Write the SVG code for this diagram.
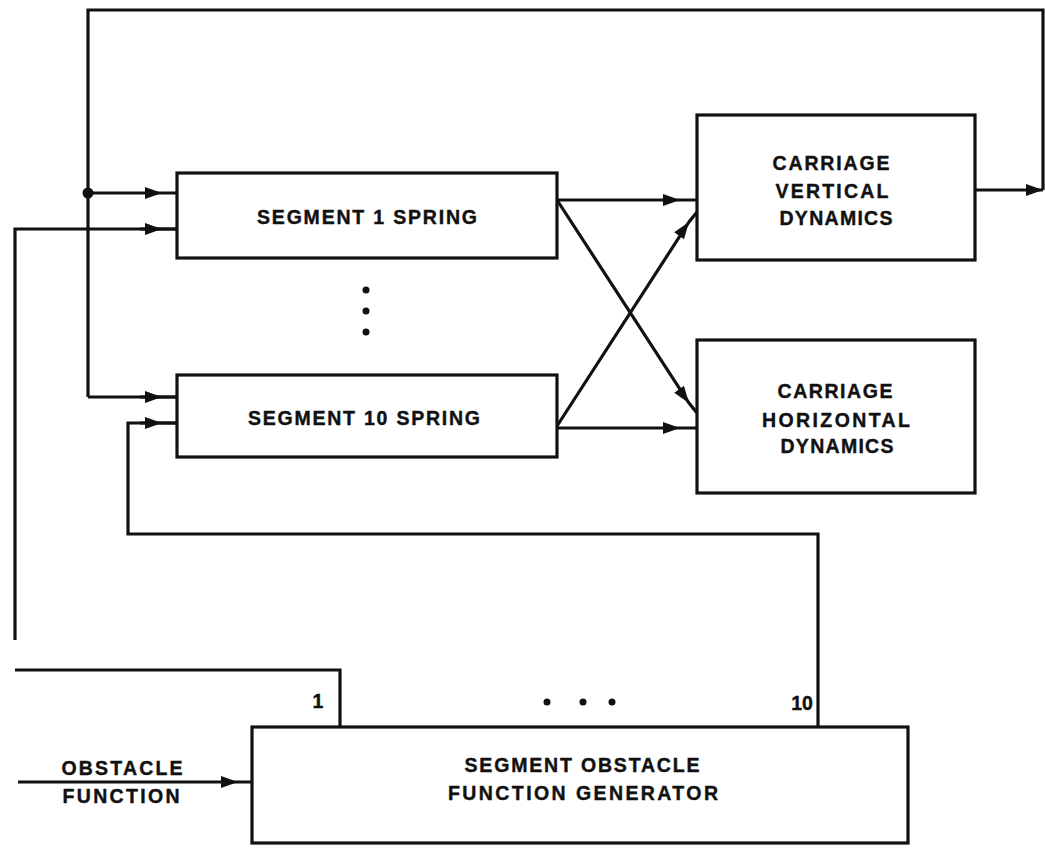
<svg xmlns="http://www.w3.org/2000/svg" width="1045" height="849" viewBox="0 0 1045 849">
<style>
.box{fill:#fff;stroke:#111;stroke-width:3.2}
.ln{fill:none;stroke:#111;stroke-width:3.2;stroke-linejoin:miter}
.t{font-family:"Liberation Sans",Arial,sans-serif;font-weight:bold;font-size:19.5px;fill:#111;text-anchor:middle;stroke:#111;stroke-width:0.4}
.a{marker-mid:url(#ah)}
</style>
<defs>
<marker id="ah" markerUnits="userSpaceOnUse" markerWidth="18" markerHeight="13" refX="17" refY="6.5" orient="auto" viewBox="0 0 18 13">
<path d="M0,0.5 L17,6.5 L0,12.5 z" fill="#111"/>
</marker>
<marker id="ahe" markerUnits="userSpaceOnUse" markerWidth="18" markerHeight="13" refX="17" refY="6.5" orient="auto" viewBox="0 0 18 13">
<path d="M0,0.5 L17,6.5 L0,12.5 z" fill="#111"/>
</marker>
</defs>
<rect width="1045" height="849" fill="#fff"/>
<g id="connectors">
<path class="ln" d="M88,397 L177,397"/>
<path class="ln" d="M88,397 L88,10 L1043,10 L1043,190"/>
<path class="ln a" d="M88,193 L162,193 L177,193"/>
<path class="ln a" d="M140,397 L162,397 L177,397"/>
<path class="ln" d="M15,640 L15,229 L177,229"/>
<path class="ln a" d="M140,229 L162,229 L177,229"/>
<path class="ln" d="M15,670 L340,670 L340,727"/>
<path class="ln" d="M818,727 L818,534 L128,534 L128,423 L177,423"/>
<path class="ln a" d="M140,423 L162,423 L177,423"/>
<path class="ln a" d="M557,200 L680,200 L697,200"/>
<path class="ln a" d="M557,428 L680,428 L697,428"/>
<path class="ln a" d="M557,200 L689,403 L697,413"/>
<path class="ln a" d="M557,426 L689,222 L697,212"/>
<path class="ln" d="M975,190 L1043,190" marker-end="url(#ahe)"/>
<path class="ln a" d="M18,782 L238,782 L252,782"/>
<circle cx="88" cy="193" r="5.5" fill="#111"/>
</g>
<g id="seg1">
<rect class="box" x="177" y="173" width="380" height="85"/>
<text class="t" x="367" y="224" textLength="220" lengthAdjust="spacing">SEGMENT 1 SPRING</text>
</g>
<g id="dots-v">
<circle cx="366" cy="290" r="3.5" fill="#111"/>
<circle cx="366" cy="311" r="3.5" fill="#111"/>
<circle cx="366" cy="332" r="3.5" fill="#111"/>
</g>
<g id="seg10">
<rect class="box" x="177" y="375" width="380" height="82"/>
<text class="t" x="364" y="425" textLength="232" lengthAdjust="spacing">SEGMENT 10 SPRING</text>
</g>
<g id="cvd">
<rect class="box" x="697" y="115" width="278" height="145"/>
<text class="t" x="831" y="170" textLength="117" lengthAdjust="spacing">CARRIAGE</text>
<text class="t" x="832" y="198" textLength="113" lengthAdjust="spacing">VERTICAL</text>
<text class="t" x="836" y="225" textLength="113" lengthAdjust="spacing">DYNAMICS</text>
</g>
<g id="chd">
<rect class="box" x="697" y="340" width="278" height="153"/>
<text class="t" x="835" y="398" textLength="115" lengthAdjust="spacing">CARRIAGE</text>
<text class="t" x="836" y="427" textLength="148" lengthAdjust="spacing">HORIZONTAL</text>
<text class="t" x="837" y="453" textLength="113" lengthAdjust="spacing">DYNAMICS</text>
</g>
<g id="gen">
<rect class="box" x="252" y="727" width="656" height="116"/>
<text class="t" x="582" y="772" textLength="235" lengthAdjust="spacing">SEGMENT OBSTACLE</text>
<text class="t" x="583" y="800" textLength="270" lengthAdjust="spacing">FUNCTION GENERATOR</text>
<text class="t" x="318" y="708" font-size="16">1</text>
<text class="t" x="802" y="710" font-size="16">10</text>
<circle cx="547" cy="702" r="3.5" fill="#111"/>
<circle cx="583" cy="702" r="3.5" fill="#111"/>
<circle cx="612" cy="702" r="3.5" fill="#111"/>
</g>
<g id="obstacle-label">
<text class="t" x="122" y="775" textLength="121" lengthAdjust="spacing">OBSTACLE</text>
<text class="t" x="121" y="803" textLength="117" lengthAdjust="spacing">FUNCTION</text>
</g>
</svg>
